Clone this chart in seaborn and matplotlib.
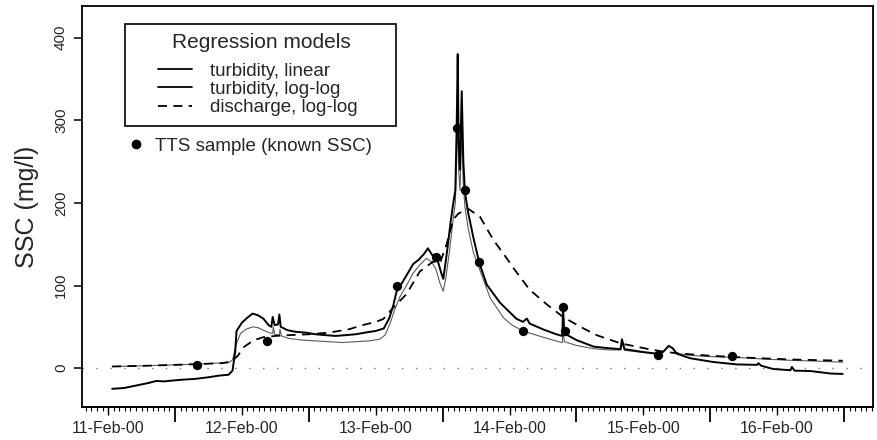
import numpy as np
import matplotlib
matplotlib.use("Agg")
import matplotlib.pyplot as plt
from matplotlib.lines import Line2D
from matplotlib.patches import Rectangle
import seaborn as sns

# time = days after 11-Feb-00 00:00, SSC in mg/l
lin_t = [0.53, 0.62, 0.74, 0.80, 0.86, 0.92, 0.98, 1.05, 1.15, 1.25, 1.33, 1.40, 1.43, 1.45, 1.46,
         1.50, 1.54, 1.58, 1.62, 1.66, 1.70, 1.72, 1.73, 1.745, 1.77, 1.78, 1.79, 1.84, 1.90, 1.98,
         2.05, 2.12, 2.20, 2.28, 2.35, 2.42, 2.50, 2.56, 2.60, 2.63, 2.655, 2.70, 2.74, 2.78, 2.82,
         2.86, 2.89, 2.91, 2.93, 2.96, 2.99, 3.005, 3.02, 3.04, 3.06, 3.08, 3.095, 3.105, 3.113,
         3.12, 3.13, 3.143, 3.155, 3.167, 3.19, 3.23, 3.275, 3.33, 3.43, 3.55, 3.60, 3.63, 3.65,
         3.75, 3.85, 3.895, 3.90, 3.91, 4.0, 4.13, 4.25, 4.33, 4.34, 4.36, 4.5, 4.6, 4.65, 4.69,
         4.72, 4.75, 4.85, 5.02, 5.2, 5.35, 5.36, 5.38, 5.47, 5.6, 5.61, 5.63, 5.75, 5.9, 5.99]
lin_v = [-25, -24, -20, -18, -15.5, -16, -15, -14, -13, -11, -9, -8, -3, 20, 45,
         55, 61, 66, 64, 60, 52, 50, 62, 52, 53, 65, 50, 46, 44, 43,
         41, 40, 39, 40, 41, 43, 45, 48, 60, 75, 92, 104, 115, 126, 131,
         138, 145, 140, 135, 132, 115, 108, 125, 150, 177, 200, 215, 290, 380,
         270, 240, 335, 250, 213, 189, 158, 127, 101, 79, 60, 56, 60, 54,
         47, 41, 39, 73, 42, 34, 26, 24, 23, 35, 23, 19.5, 17.5, 20, 27,
         24, 17.5, 12, 7.5, 4.5, 4, 6, 3, -1, -2.5, 1.5, -3, -3.5, -6.5, -7]

log_t = [0.53, 0.7, 0.9, 1.1, 1.3, 1.40, 1.43, 1.46, 1.49, 1.53, 1.58, 1.62, 1.66, 1.70, 1.73,
         1.735, 1.745, 1.78, 1.785, 1.795, 1.85, 1.95, 2.05, 2.15, 2.25, 2.35, 2.45, 2.53, 2.57,
         2.61, 2.64, 2.68, 2.73, 2.78, 2.83, 2.88, 2.92, 2.95, 2.98, 3.005, 3.025, 3.05, 3.075,
         3.095, 3.105, 3.113, 3.12, 3.13, 3.143, 3.155, 3.167, 3.19, 3.23, 3.28, 3.355, 3.455,
         3.52, 3.60, 3.75, 3.88, 3.895, 3.90, 3.91, 4.0, 4.13, 4.25, 4.33, 4.34, 4.36, 4.5, 4.6,
         4.65, 4.69, 4.72, 4.75, 4.85, 5.0, 5.22, 5.4, 5.6, 5.8, 5.99]
log_v = [2, 2.5, 3.5, 4.5, 6, 6.5, 10, 30, 42, 47, 50, 49, 46, 43, 42,
         50, 41, 40, 47, 39, 36, 34, 33, 32, 31, 32, 33, 35, 40,
         55, 70, 86, 100, 115, 125, 133, 128, 120, 103, 93, 110, 140, 175,
         200, 250, 330, 240, 215, 290, 220, 195, 170, 140, 118, 85, 61,
         52, 45, 37.5, 31.5, 31, 48, 32, 27.5, 23.5, 22, 22, 30, 21.5, 19, 17.5,
         20, 27, 24, 18, 15.5, 14, 12.8, 11, 9.5, 8.5, 7.2]

q_t = [0.53, 0.8, 1.1, 1.35, 1.42, 1.47, 1.51, 1.585, 1.66, 1.75, 1.86, 2.0, 2.15, 2.30, 2.40,
       2.50, 2.557, 2.63, 2.73, 2.83, 2.93, 2.98, 3.03, 3.08, 3.118, 3.19, 3.28, 3.38, 3.47,
       3.53, 3.65, 3.78, 3.90, 4.03, 4.15, 4.33, 4.525, 4.65, 4.75, 5.0, 5.3, 5.6, 5.99]
q_v = [2, 3, 4.5, 6, 8, 15, 25, 33.5, 37.5, 39, 40, 41, 43, 47, 52,
       56, 59.5, 73, 89.5, 117, 129, 127, 150, 180, 187, 193, 183, 155, 135,
       121, 95, 77, 62, 50, 40, 30, 23.5, 20, 18, 15, 12.5, 10.5, 9]

sample_t = [1.163, 1.685, 2.657, 2.95, 3.105, 3.167, 3.275, 3.603, 3.897, 3.915, 4.607, 5.16]
sample_v = [4, 33, 99, 135, 291, 215, 129, 45, 74, 45, 16, 15]

day_mid = [0.5, 1.5, 2.5, 3.5, 4.5, 5.5]
day_labels = ["11-Feb-00", "12-Feb-00", "13-Feb-00", "14-Feb-00", "15-Feb-00", "16-Feb-00"]
model_labels = ["turbidity, linear", "turbidity, log-log", "discharge, log-log"]

sns.set_style("ticks")
plt.rcParams['font.family'] = ['Liberation Sans', 'DejaVu Sans']

fig = plt.figure(figsize=(8.77, 4.40), dpi=100)
ax = fig.add_axes([0.0935, 0.075, 0.902, 0.911])

ax.axhline(0, color='#777777', lw=1.0, ls=(0, (1, 9)), zorder=1)
sns.lineplot(x=log_t, y=log_v, ax=ax, color='#5a5a5a', lw=0.8, estimator=None, zorder=2)
sns.lineplot(x=lin_t, y=lin_v, ax=ax, color='black', lw=1.4, estimator=None, zorder=3)
sns.lineplot(x=q_t, y=q_v, ax=ax, color='black', lw=1.3, ls=(0, (5, 3.5)), estimator=None, zorder=3)
sns.scatterplot(x=sample_t, y=sample_v, ax=ax, color='black', s=45, linewidth=0, zorder=5)

ax.set_xlim(0.305, 6.217)
ax.set_ylim(-47, 438)

# midnight ticks (long), hourly minor ticks, labels at noon
ax.set_xticks(range(1, 7))
ax.set_xticklabels([])
ax.set_xticks(np.arange(8 / 24, 6.217, 1 / 24), minor=True)
ax.tick_params(axis='x', which='major', length=11, width=1.3, direction='out', color='black')
ax.tick_params(axis='x', which='minor', length=3, width=0.8, direction='out', color='black')
sec = ax.secondary_xaxis('bottom')
sec.set_xticks(day_mid, labels=day_labels)
sec.tick_params(length=6, width=1, labelsize=11.5, pad=4, color='black')
sec.spines['bottom'].set_linewidth(1.3)

ax.set_yticks([0, 100, 200, 300, 400])
ax.set_yticklabels(['0', '100', '200', '300', '400'], rotation=90, va='center')
ax.tick_params(axis='y', length=6, width=1.1, labelsize=11, pad=4, color='black')
ax.set_ylabel("SSC (mg/l)", fontsize=18)
ax.yaxis.set_label_coords(-0.054, 0.5)
ax.set_xlabel("")

for s in ax.spines.values():
    s.set_visible(True)
    s.set_color('black')
    s.set_linewidth(1.3)

# legend box with title
ax.add_patch(Rectangle((0.054, 0.7007), 0.3426, 0.2544, transform=ax.transAxes,
                       fill=True, fc='white', ec='black', lw=1.2, zorder=6))
ax.text(0.2263, 0.910, "Regression models", transform=ax.transAxes, ha='center',
        va='center', fontsize=15, zorder=7)
handles = [Line2D([], [], color='black', lw=1.3),
           Line2D([], [], color='black', lw=1.3),
           Line2D([], [], color='black', lw=1.3, ls=(0, (5, 3.5)))]
leg = ax.legend(handles, model_labels, loc='upper left',
                bbox_to_anchor=(0.0961, 0.8596), frameon=False, fontsize=13.5,
                borderpad=0, borderaxespad=0, handlelength=1.8,
                handletextpad=0.95, labelspacing=0.06)
leg.set_zorder(7)
ax.add_artist(leg)

dot = [Line2D([], [], color='black', marker='o', ls='', markersize=6)]
leg2 = ax.legend(dot, ["TTS sample (known SSC)"], loc='center left',
                 bbox_to_anchor=(0.0585, 0.651), frameon=False, fontsize=13.5,
                 borderpad=0, borderaxespad=0, handlelength=0.8, handletextpad=0.65)
leg2.set_zorder(7)

fig.savefig("out.png", dpi=100)
